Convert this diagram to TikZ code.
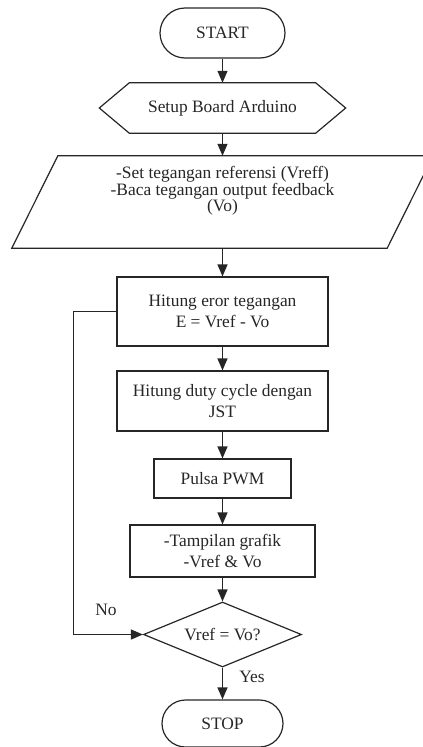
\documentclass[tikz,border=0pt]{standalone}
\usepackage{fontspec}
\setmainfont{Liberation Serif}
\usetikzlibrary{arrows.meta,calc,shapes.geometric}
\begin{document}
\begin{tikzpicture}[x=1pt,y=-1pt,
  every node/.style={font=\fontsize{17.4}{21}\selectfont, text=black!85, align=center, inner sep=0pt},
  ln/.style={draw=black!85, line width=1.2pt},
  arr/.style={ln, -{Triangle[length=12pt,width=10pt]}},
  box/.style={ln, rectangle},
  term/.style={ln, rectangle},
  dia/.style={ln, diamond, aspect=2.43}]
\useasboundingbox (0,0) rectangle (423,747);
\clip (0,0) rectangle (423,747);
% nodes
\node[term, rounded corners=25pt, minimum width=125pt, minimum height=50pt] (start) at (222.5,33) {START};
\node[minimum width=186pt, minimum height=50pt] (setup) at (222.5,108) {Setup Board Arduino};
\draw[ln] ([xshift=-30pt]setup.west) -- (setup.north west) -- (setup.north east)
  -- ([xshift=30pt]setup.east) -- (setup.south east) -- (setup.south west) -- cycle;
\node[minimum width=375pt, minimum height=92pt] (io) at (222.5,202) {};
\draw[ln] ([xshift=23pt]io.north west) -- ([xshift=23pt]io.north east)
  -- ([xshift=-23pt]io.south east) -- ([xshift=-23pt]io.south west) -- cycle;
\node[font=\fontsize{17.4}{16.5}\selectfont] (iotxt) at (222.5,191) {-Set tegangan referensi (Vreff)\\-Baca tegangan output feedback\\(Vo)};
\node[box, minimum width=211pt, minimum height=69pt] (e1) at (222.5,311.5) {Hitung eror tegangan\\E = Vref - Vo};
\node[box, minimum width=211pt, minimum height=60pt] (e2) at (222.5,401) {Hitung duty cycle dengan\\JST};
\node[box, minimum width=137pt, minimum height=39pt] (pwm) at (222.5,478.5) {Pulsa PWM};
\node[box, minimum width=185pt, minimum height=52pt] (tamp) at (222.5,551) {-Tampilan grafik\\-Vref \& Vo};
\node[dia, minimum width=158pt, minimum height=65pt] (dec) at (222.5,634.5) {Vref = Vo?};
\node[term, rounded corners=23.5pt, minimum width=121pt, minimum height=47pt] (stop) at (222.5,723.5) {STOP};
\node (no) at (106,610) {No};
\node (yes) at (252,677) {Yes};
% connectors
\draw[arr] (start) -- (setup);
\draw[arr] (setup) -- (io);
\draw[arr] (io) -- (e1);
\draw[arr] (e1) -- (e2);
\draw[arr] (e2) -- (pwm);
\draw[arr] (pwm) -- (tamp);
\draw[arr] (tamp) -- (dec);
\draw[arr] (dec) -- (stop);
\draw[arr] (e1.west) -- ++(-43,0) |- (dec.west);
\end{tikzpicture}
\end{document}
